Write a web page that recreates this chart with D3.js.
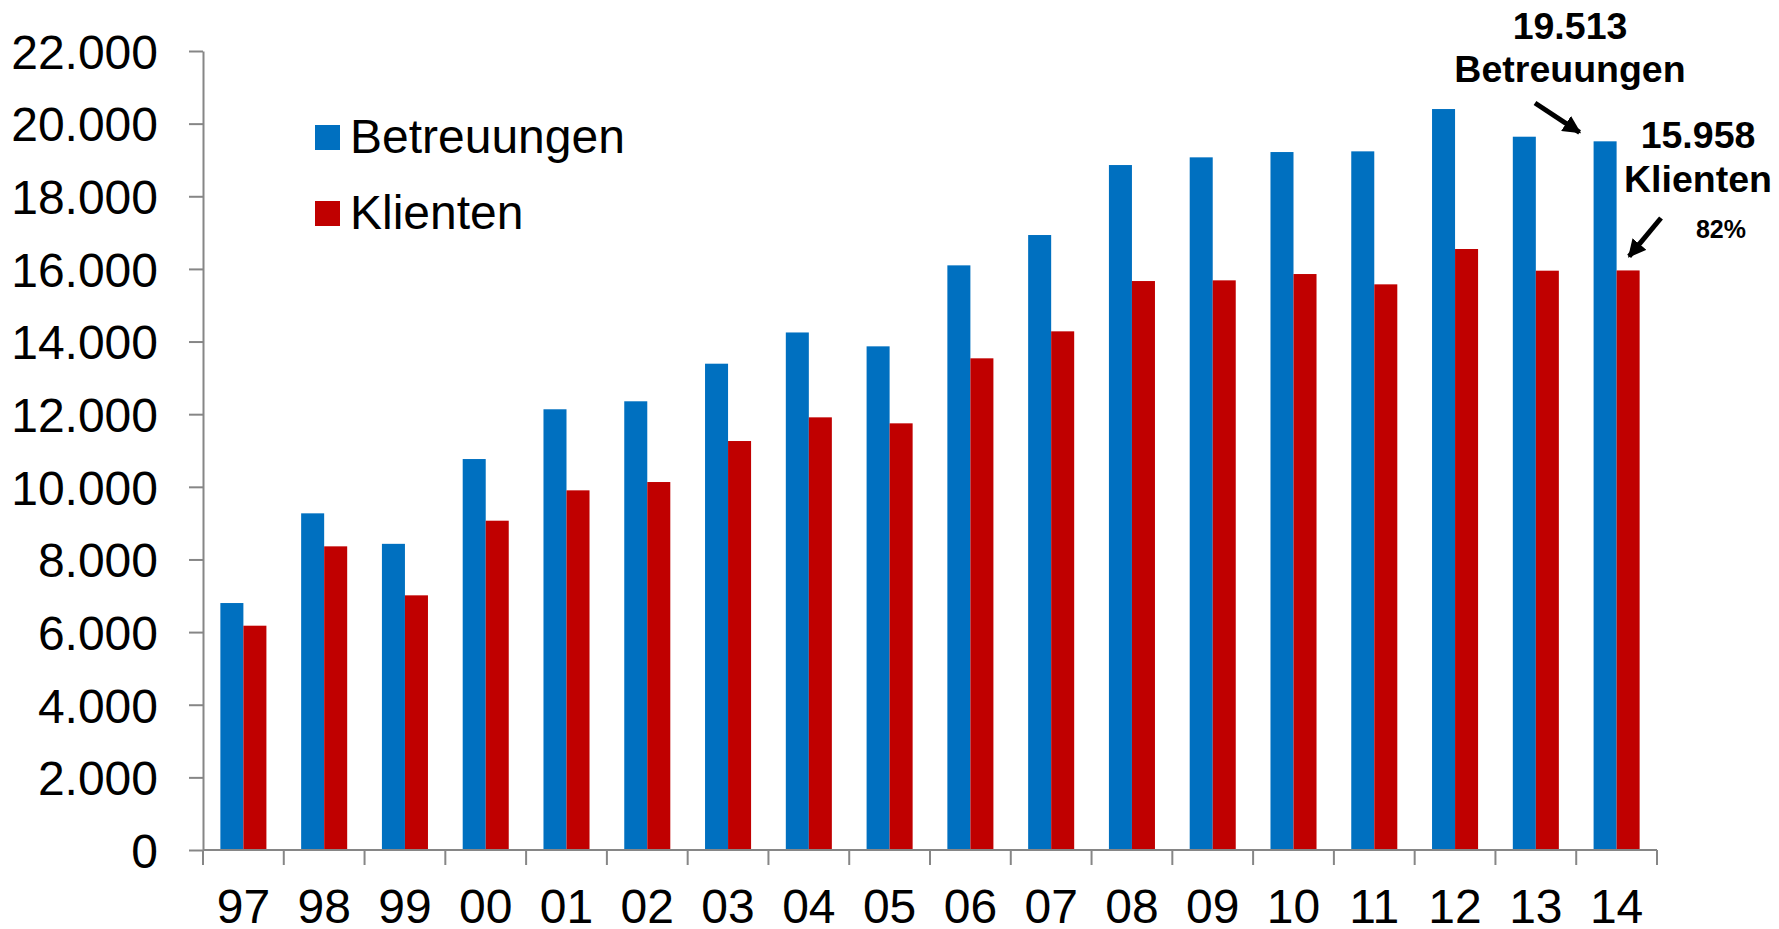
<!DOCTYPE html>
<html lang="de">
    <head>
        <script src="https://d3js.org/d3.v7.min.js"></script>
        <meta charset="UTF-8">
        <title>Betreuungen und Klienten</title>
        <style>
            body {
            margin: 0;
            background-color: #ffffff;
            }
            svg {
            display: block;
            font-family: "Liberation Sans", Arial, sans-serif;
            }
            .axis path, .axis line {
            stroke: #868686;
            stroke-width: 2;
            }
            .axis text {
            fill: #000000;
            font-size: 48px;
            font-family: "Liberation Sans", Arial, sans-serif;
            }
            .note {
            font-weight: bold;
            fill: #000000;
            text-anchor: middle;
            }
        </style>
    </head>
    <body>
        <div id="chart"></div>

        <script>
            const years = ["97", "98", "99", "00", "01", "02", "03", "04", "05",
                           "06", "07", "08", "09", "10", "11", "12", "13", "14"];
            const betreuungen = [6800, 9270, 8430, 10765, 12135, 12355, 13390, 14250, 13868,
                                 16098, 16933, 18860, 19072, 19218, 19237, 20402, 19640, 19513];
            const klienten = [6176, 8361, 7012, 9067, 9903, 10132, 11261, 11913, 11748,
                              13538, 14281, 15666, 15685, 15859, 15575, 16548, 15951, 15958];
            const seriesNames = ["Betreuungen", "Klienten"];
            const seriesColors = ["#0070C0", "#C00000"];
            const yTicks = [0, 2000, 4000, 6000, 8000, 10000, 12000, 14000, 16000, 18000, 20000, 22000];

            const width = 1779;
            const height = 929;
            const margin = { top: 51, right: 122, bottom: 79, left: 203 };

            const de = d3.formatLocale({ decimal: ",", thousands: ".", grouping: [3], currency: ["", " €"] });
            const fmt = de.format(",d");

            const svg = d3.select("#chart")
                          .append("svg")
                          .attr("width", width)
                          .attr("height", height);

            const rows = years.map((y, i) => ({ year: y, values: [betreuungen[i], klienten[i]] }));

            const xScale = d3.scaleBand()
                             .domain(years)
                             .range([margin.left, width - margin.right])
                             .padding(0);

            const bw = xScale.bandwidth();
            const xInner = d3.scaleBand()
                             .domain(seriesNames)
                             .range([bw * 0.215, bw * 0.785])
                             .padding(0);

            const yScale = d3.scaleLinear()
                             .domain([0, 22000])
                             .range([height - margin.bottom, margin.top]);

            // bars
            const groups = svg.selectAll(".group")
                              .data(rows)
                              .enter()
                              .append("g")
                              .attr("class", "group")
                              .attr("transform", d => `translate(${xScale(d.year)},0)`);

            groups.selectAll("rect")
                  .data(d => d.values.map((v, i) => ({ name: seriesNames[i], value: v, color: seriesColors[i] })))
                  .enter()
                  .append("rect")
                  .attr("x", d => xInner(d.name))
                  .attr("y", d => yScale(d.value))
                  .attr("width", xInner.bandwidth())
                  .attr("height", d => yScale(0) - yScale(d.value))
                  .attr("fill", d => d.color);

            // y axis
            svg.append("g")
               .attr("class", "axis")
               .attr("transform", `translate(${margin.left},0)`)
               .call(d3.axisLeft(yScale).tickValues(yTicks).tickFormat(fmt).tickSize(14).tickSizeOuter(0).tickPadding(31))
               .selectAll("text")
               .attr("dy", "0.36em");

            // x axis with ticks between categories
            const xAxis = svg.append("g")
                             .attr("class", "axis")
                             .attr("transform", `translate(0,${yScale(0)})`);
            xAxis.append("line")
                 .attr("x1", margin.left)
                 .attr("x2", width - margin.right)
                 .attr("y1", 0)
                 .attr("y2", 0);
            xAxis.selectAll(".sep")
                 .data(years.concat(["end"]))
                 .enter()
                 .append("line")
                 .attr("class", "sep")
                 .attr("x1", (d, i) => margin.left + i * bw)
                 .attr("x2", (d, i) => margin.left + i * bw)
                 .attr("y1", 0)
                 .attr("y2", 15);
            xAxis.selectAll("text")
                 .data(years)
                 .enter()
                 .append("text")
                 .attr("x", d => xScale(d) + bw / 2)
                 .attr("y", 73)
                 .attr("text-anchor", "middle")
                 .text(d => d);

            // legend
            const legend = svg.append("g").attr("transform", "translate(315,125)");
            seriesNames.forEach((name, i) => {
                legend.append("rect")
                      .attr("x", 0)
                      .attr("y", i * 76)
                      .attr("width", 25)
                      .attr("height", 25)
                      .attr("fill", seriesColors[i]);
                legend.append("text")
                      .attr("x", 35)
                      .attr("y", i * 76 + 28)
                      .attr("font-size", "48px")
                      .attr("fill", "#000")
                      .text(name);
            });

            // annotations for the last year
            const last = years.length - 1;
            const bLast = betreuungen[last];
            const kLast = klienten[last];
            const bx = xScale(years[last]) + xInner("Betreuungen");
            const kx = xScale(years[last]) + xInner("Klienten") + xInner.bandwidth() / 2;

            svg.append("defs")
               .append("marker")
               .attr("id", "head")
               .attr("viewBox", "0 0 10 10")
               .attr("refX", 9)
               .attr("refY", 5)
               .attr("markerWidth", 18)
               .attr("markerHeight", 18)
               .attr("markerUnits", "userSpaceOnUse")
               .attr("orient", "auto")
               .append("path")
               .attr("d", "M0,0 L10,5 L0,10 z")
               .attr("fill", "#000");

            svg.append("text").attr("class", "note").attr("x", 1570).attr("y", 39)
               .attr("font-size", "37.5px").text(fmt(bLast));
            svg.append("text").attr("class", "note").attr("x", 1570).attr("y", 82)
               .attr("font-size", "37.5px").text("Betreuungen");
            svg.append("line")
               .attr("x1", 1535).attr("y1", 103)
               .attr("x2", bx - 14).attr("y2", yScale(bLast) - 9)
               .attr("stroke", "#000").attr("stroke-width", 5)
               .attr("marker-end", "url(#head)");

            svg.append("text").attr("class", "note").attr("x", 1698).attr("y", 148)
               .attr("font-size", "37.5px").text(fmt(kLast));
            svg.append("text").attr("class", "note").attr("x", 1698).attr("y", 192)
               .attr("font-size", "37.5px").text("Klienten");
            svg.append("text").attr("class", "note").attr("x", 1721).attr("y", 238)
               .attr("font-size", "25px").text(Math.round(kLast / bLast * 100) + "%");
            svg.append("line")
               .attr("x1", 1661).attr("y1", 218)
               .attr("x2", kx + 1).attr("y2", yScale(kLast) - 14)
               .attr("stroke", "#000").attr("stroke-width", 5)
               .attr("marker-end", "url(#head)");
        </script>
    </body>
</html>
